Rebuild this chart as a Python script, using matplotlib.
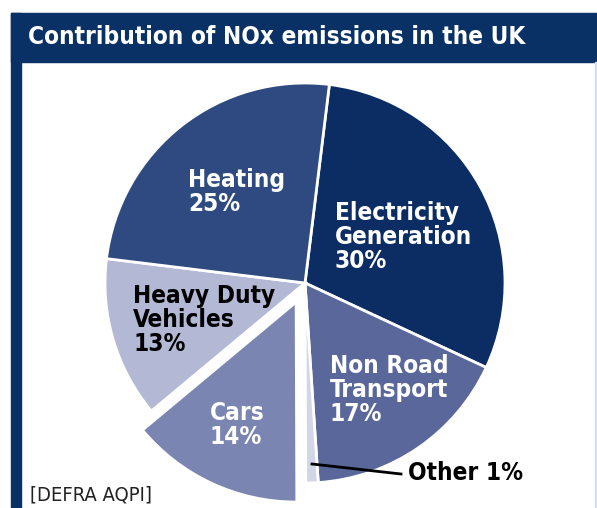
import matplotlib
matplotlib.use("Agg")
import matplotlib.pyplot as plt
from matplotlib.patches import Rectangle
from matplotlib import font_manager as fm

names = {f.name for f in fm.fontManager.ttflist}
if "Liberation Sans Narrow" in names:
    FAM = "Liberation Sans Narrow"
    STR = "normal"
else:
    FAM = "DejaVu Sans"
    STR = "condensed"

title = "Contribution of NOx emissions in the UK"
categories = ["Electricity\nGeneration", "Non Road\nTransport", "Other", "Cars",
              "Heavy Duty\nVehicles", "Heating"]
values = [30, 17, 1, 14, 13, 25]
colors = ["#0c2c64", "#59679a", "#d3d6e6", "#7a85b2", "#b3b8d5", "#2e4a80"]
explode = [0, 0, 0, 21, 0, 0]
source = "[DEFRA AQPI]"

W, H = 597, 508
fig = plt.figure(figsize=(W / 100, H / 100), dpi=100)
fig.patch.set_facecolor("white")
ax = fig.add_axes([0, 0, 1, 1])
ax.axis("off")

# frame
ax.add_patch(Rectangle((11, 0), 10, H - 13, color="#0a3166", zorder=0))
ax.add_patch(Rectangle((11, H - 62), W - 11, 49, color="#0a3166", zorder=0))
ax.add_patch(Rectangle((595, 0), 2, H - 62, color="#cfe0f5", zorder=0))

wedges, _ = ax.pie(values, colors=colors, startangle=83, counterclock=False,
                   center=(305, 225), radius=200, explode=explode,
                   wedgeprops=dict(edgecolor="white", linewidth=2))
ax.set_xlim(0, W)
ax.set_ylim(0, H)
ax.set_aspect("equal")

ax.text(28, H - 37, title, color="white", fontsize=17.5, fontweight="bold",
        family=FAM, fontstretch=STR, va="center", ha="left")

lab = dict(fontsize=17.5, fontweight="bold", family=FAM, fontstretch=STR,
           ha="left", va="center", linespacing=1.0)
ax.text(335, H - 237, categories[0] + "\n%d%%" % values[0], color="white", **lab)
ax.text(330, H - 390, categories[1] + "\n%d%%" % values[1], color="white", **lab)
ax.text(188, H - 192, categories[5] + "\n%d%%" % values[5], color="white", **lab)
ax.text(133, H - 320, categories[4] + "\n%d%%" % values[4], color="black", **lab)
ax.text(210, H - 425, categories[3] + "\n%d%%" % values[3], color="white", **lab)
ax.text(408, H - 473, "%s %d%%" % (categories[2], values[2]), color="black", **lab)
ax.plot([312, 401], [H - 464, H - 474], color="black", lw=2)
ax.text(30, H - 495, source, color="#222222", fontsize=14.5, family=FAM,
        fontstretch=STR, va="center", ha="left")

fig.savefig("out.png", dpi=100)
